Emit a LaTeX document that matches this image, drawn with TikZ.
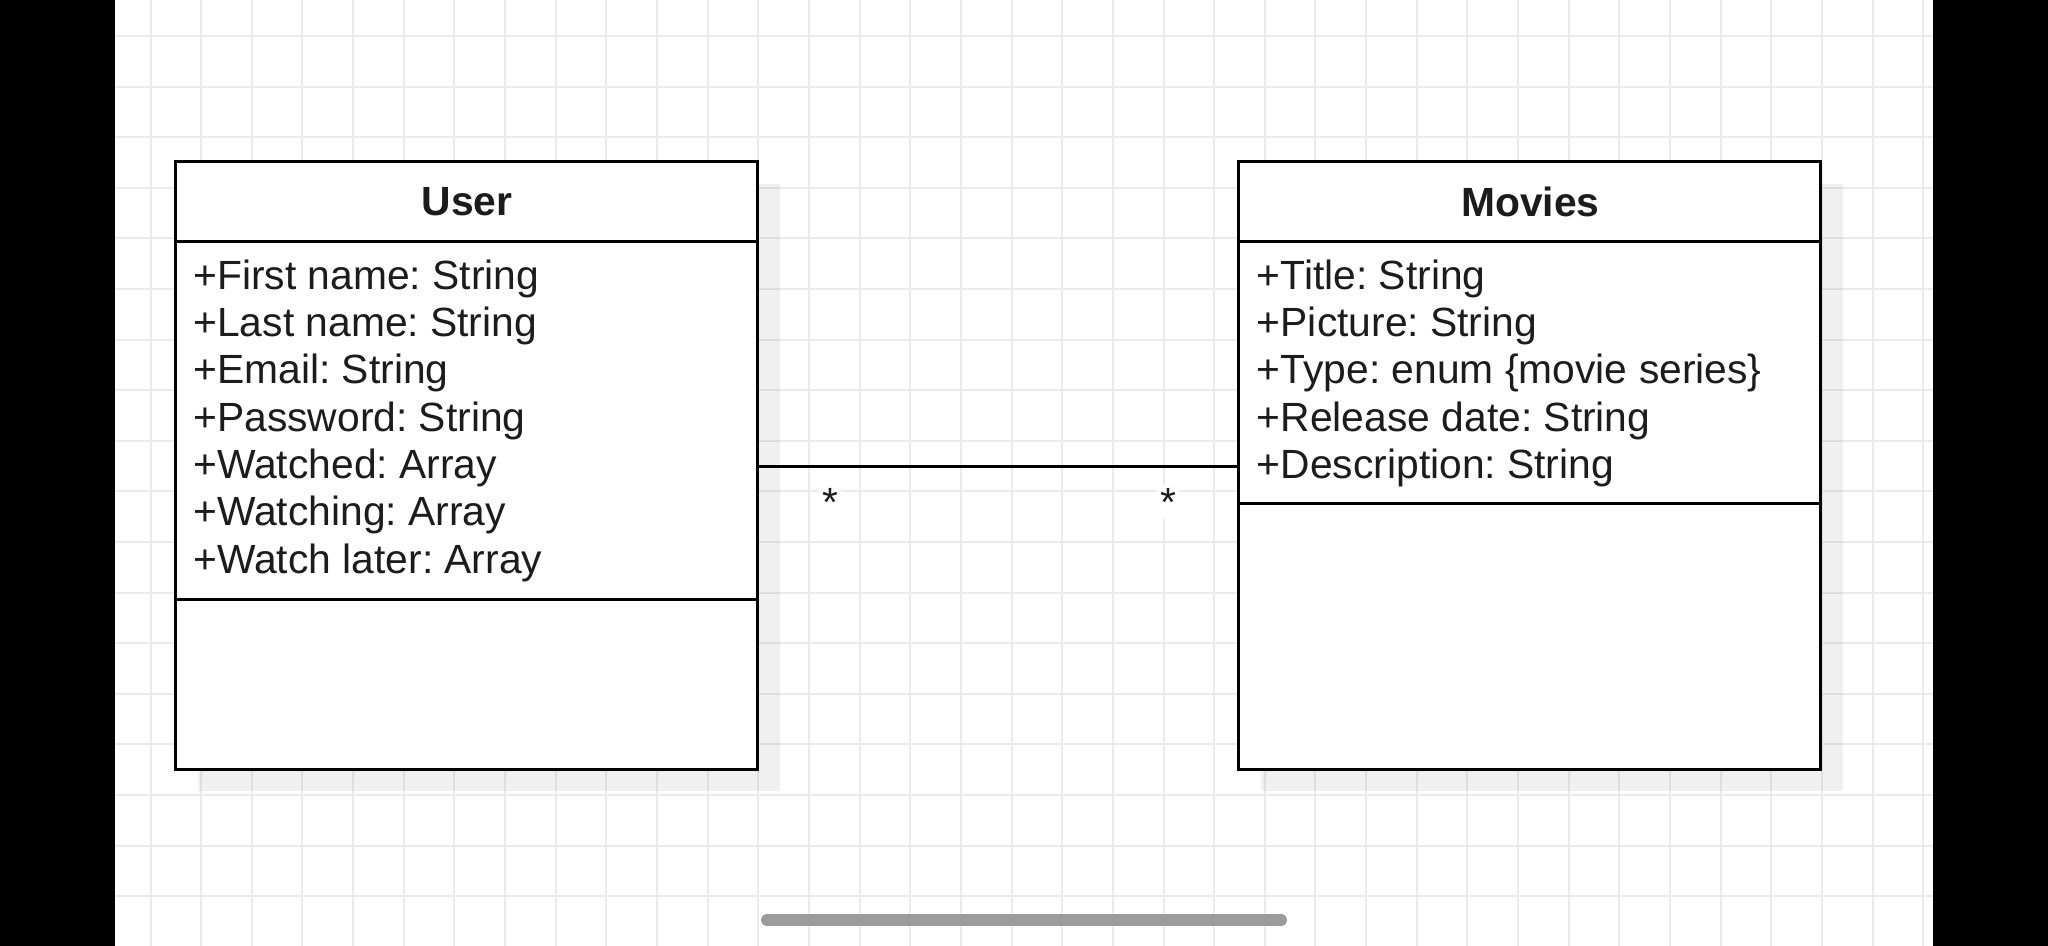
\documentclass[tikz,border=0pt]{standalone}
\usepackage{fontspec}
\setmainfont{Liberation Sans}
\usetikzlibrary{shadows}
\definecolor{gridgray}{HTML}{EBEBEB}
\definecolor{handlegray}{HTML}{9B9B9B}
\definecolor{inkcol}{HTML}{1C1C1C}
\begin{document}
\frenchspacing
\begin{tikzpicture}[x=0.5pt,y=-0.5pt,
  gridline/.style={draw=gridgray, line width=1pt},
  classbox/.style={draw=black, line width=1.5pt, fill=white, rectangle,
    outer sep=0pt, inner sep=0pt, minimum width=291pt, minimum height=303.5pt,
    drop shadow={shadow xshift=11pt, shadow yshift=-11pt, fill=black, opacity=0.06}},
  divline/.style={draw=black, line width=1.5pt},
  assoc/.style={draw=black, line width=1.5pt},
  titletext/.style={inner sep=0pt, text=inkcol, font=\bfseries\fontsize{20.4}{24}\selectfont},
  attr/.style={anchor=base west, inner sep=0pt, text=inkcol, font=\fontsize{20.4}{24}\selectfont},
  mult/.style={fill=white, inner sep=1.5pt, text=inkcol, font=\fontsize{20.4}{24}\selectfont}
]
\useasboundingbox (0,0) rectangle (2048,946);
\fill[white] (0,0) rectangle (2048,946);
% grid
\foreach \k in {0,...,35} {
  \draw[gridline] ({150.5+50.65*\k},0) -- ({150.5+50.65*\k},946);
}
\foreach \k in {0,...,17} {
  \draw[gridline] (115,{36+50.6*\k}) -- (1933,{36+50.6*\k});
}
% helper coordinates
\coordinate (hdr) at (0,241.6);
\coordinate (udiv) at (0,599.5);
\coordinate (mdiv) at (0,503);
\coordinate (conn) at (0,466);
% class boxes
\node[classbox] (user) at (466.5,465.5) {};
\node[classbox] (movies) at (1529.75,465.5) {};
\draw[divline] (user.west |- hdr) -- (user.east |- hdr);
\draw[divline] (user.west |- udiv) -- (user.east |- udiv);
\draw[divline] (movies.west |- hdr) -- (movies.east |- hdr);
\draw[divline] (movies.west |- mdiv) -- (movies.east |- mdiv);
% titles
\node[titletext] (usertitle) at (467,202) {User};
\node[titletext] (moviestitle) at (1530.5,202) {Movies};
% user attributes
\node[attr] (u1) at (193,289.2) {+First name: String};
\node[attr] (u2) at (193,336.5) {+Last name: String};
\node[attr] (u3) at (193,383.8) {+Email: String};
\node[attr] (u4) at (193,431.1) {+Password: String};
\node[attr] (u5) at (193,478.4) {+Watched: Array};
\node[attr] (u6) at (193,525.7) {+Watching: Array};
\node[attr] (u7) at (193,573.0) {+Watch later: Array};
% movies attributes
\node[attr] (m1) at (1256.5,289.2) {+Title: String};
\node[attr] (m2) at (1256.5,336.5) {+Picture: String};
\node[attr] (m3) at (1256.5,383.8) {+Type: enum \{movie series\}};
\node[attr] (m4) at (1256.5,431.1) {+Release date: String};
\node[attr] (m5) at (1256.5,478.4) {+Description: String};
% association
\draw[assoc] (user.east |- conn) -- (movies.west |- conn);
\node[mult] (multu) at (830,502) {*};
\node[mult] (multm) at (1168,502) {*};
% side bars and scroll handle
\fill[black] (0,0) rectangle (115,946);
\fill[black] (1933,0) rectangle (2048,946);
\draw[handlegray, line width=6pt, line cap=round] (767,920) -- (1281,920);
\end{tikzpicture}
\end{document}
